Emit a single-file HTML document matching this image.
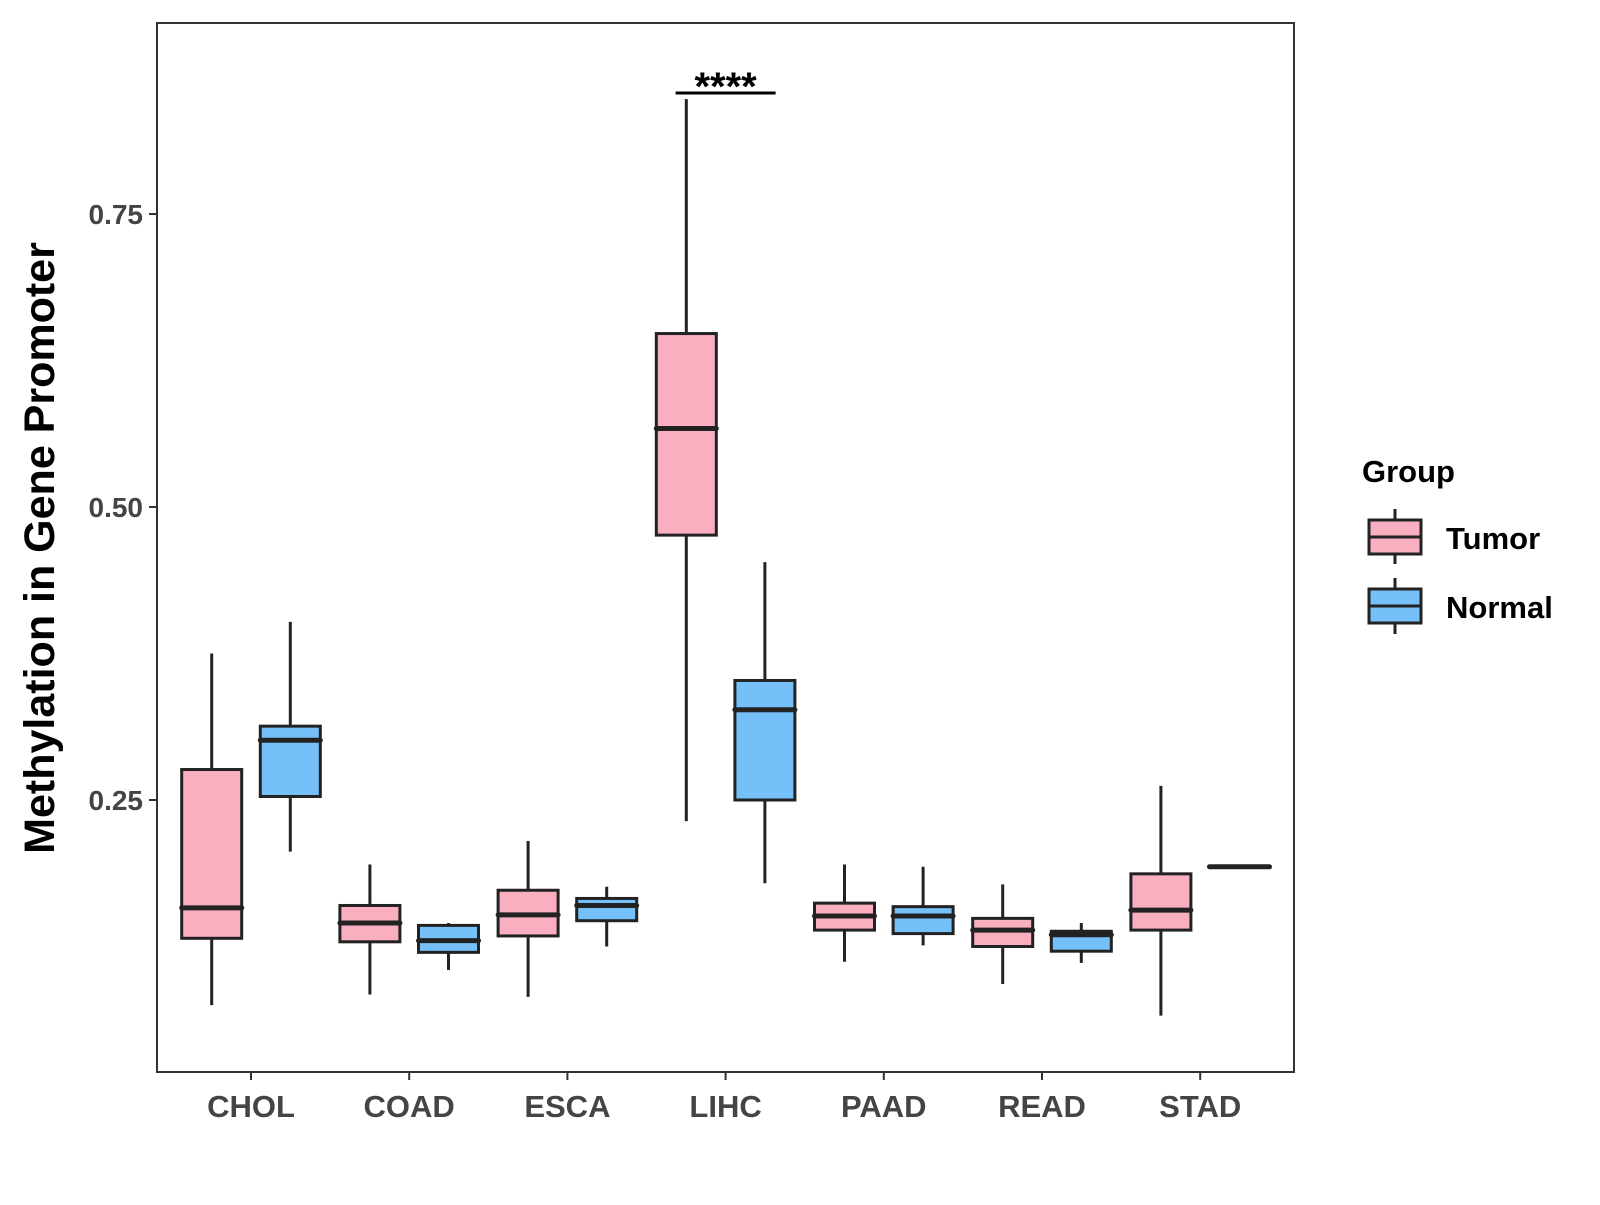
<!DOCTYPE html>
<html><head><meta charset="utf-8"><style>
body{margin:0;background:#fff;}
svg text{font-family:"Liberation Sans",Arial,sans-serif;font-weight:bold;}
</style></head><body>
<svg id="chart" width="1600" height="1200" viewBox="0 0 1600 1200" xmlns="http://www.w3.org/2000/svg">
<rect x="157" y="23" width="1137" height="1049" fill="#fff" stroke="#333" stroke-width="2"/>
<g id="marks"></g>
<text transform="translate(54,548) rotate(-90)" text-anchor="middle" font-size="43" fill="#000">Methylation in Gene Promoter</text>
<text x="1362" y="482" font-size="31" fill="#000">Group</text>
<g>
<line x1="1395" y1="509" x2="1395" y2="564" stroke="#222" stroke-width="3"/>
<rect x="1369" y="520" width="52" height="34" fill="#FAAFC1" stroke="#222" stroke-width="3"/>
<line x1="1369" y1="537" x2="1421" y2="537" stroke="#222" stroke-width="3"/>
<text x="1446" y="549" font-size="31" fill="#000">Tumor</text>
</g>
<g>
<line x1="1395" y1="578" x2="1395" y2="634" stroke="#222" stroke-width="3"/>
<rect x="1369" y="589" width="52" height="34" fill="#76C0F9" stroke="#222" stroke-width="3"/>
<line x1="1369" y1="606" x2="1421" y2="606" stroke="#222" stroke-width="3"/>
<text x="1446" y="618" font-size="31" fill="#000">Normal</text>
</g>
</svg>
<script>
const categories=["CHOL","COAD","ESCA","LIHC","PAAD","READ","STAD"];
const tumorLow=[0.075,0.084,0.082,0.232,0.112,0.093,0.066];
const tumorQ1=[0.132,0.129,0.134,0.476,0.139,0.125,0.139];
const tumorMed=[0.158,0.145,0.152,0.567,0.151,0.139,0.156];
const tumorQ3=[0.276,0.160,0.173,0.648,0.162,0.149,0.187];
const tumorHigh=[0.375,0.195,0.215,0.848,0.195,0.178,0.262];
const normalLow=[0.206,0.105,0.125,0.179,0.126,0.111,0.193];
const normalQ1=[0.253,0.120,0.147,0.250,0.136,0.121,0.193];
const normalMed=[0.301,0.130,0.160,0.327,0.151,0.135,0.193];
const normalQ3=[0.313,0.143,0.166,0.352,0.159,0.138,0.193];
const normalHigh=[0.402,0.145,0.176,0.453,0.193,0.145,0.193];
const yTicks=[0.25,0.50,0.75];
const yTickLabels=["0.25","0.50","0.75"];

const NS="http://www.w3.org/2000/svg";
const g=document.getElementById('marks');
function y(v){return 800-(v-0.25)*1172;}
function x(i){return 251+i*158.2;}
function el(t,a,p){const e=document.createElementNS(NS,t);for(const k in a)e.setAttribute(k,a[k]);(p||g).appendChild(e);return e;}

yTicks.forEach((v,i)=>{
  const t=el('line',{x1:149,x2:157,y1:y(v),y2:y(v),stroke:'#333','stroke-width':2});
  
  
  const l=el('text',{x:143,y:y(v)+10,'text-anchor':'end','font-size':28,fill:'#444'});
  l.textContent=yTickLabels[i];
  
  
});
categories.forEach((c,i)=>{
  const t=el('line',{x1:x(i),x2:x(i),y1:1072,y2:1080,stroke:'#333','stroke-width':2});
  
  
  const l=el('text',{x:x(i),y:1117,'text-anchor':'middle','font-size':31,fill:'#444'});
  l.textContent=c;
  
  
});
function box(cx,lo,q1,md,q3,hi,fill,name){
  const gr=el('g',{});
  
  
  el('line',{x1:cx,x2:cx,y1:y(hi),y2:y(lo),stroke:'#222','stroke-width':3},gr);
  el('rect',{x:cx-30,y:y(q3),width:60,height:Math.max(0,y(q1)-y(q3)),fill:fill,stroke:'#222','stroke-width':3},gr);
  el('line',{x1:cx-30,x2:cx+30,y1:y(md),y2:y(md),stroke:'#222','stroke-width':5,'stroke-linecap':'round'},gr);
}
categories.forEach((c,i)=>{
  box(x(i)-39.3,tumorLow[i],tumorQ1[i],tumorMed[i],tumorQ3[i],tumorHigh[i],'#FAAFC1','box-tumor-'+c.toLowerCase());
  box(x(i)+39.3,normalLow[i],normalQ1[i],normalMed[i],normalQ3[i],normalHigh[i],'#76C0F9','box-normal-'+c.toLowerCase());
});
const sb=el('line',{x1:x(3)-50,x2:x(3)+50,y1:93,y2:93,stroke:'#000','stroke-width':3});


const st=el('text',{x:x(3)-0,y:100,'text-anchor':'middle','font-size':40,fill:'#000'});
st.textContent='****';


</script>
</body></html>
